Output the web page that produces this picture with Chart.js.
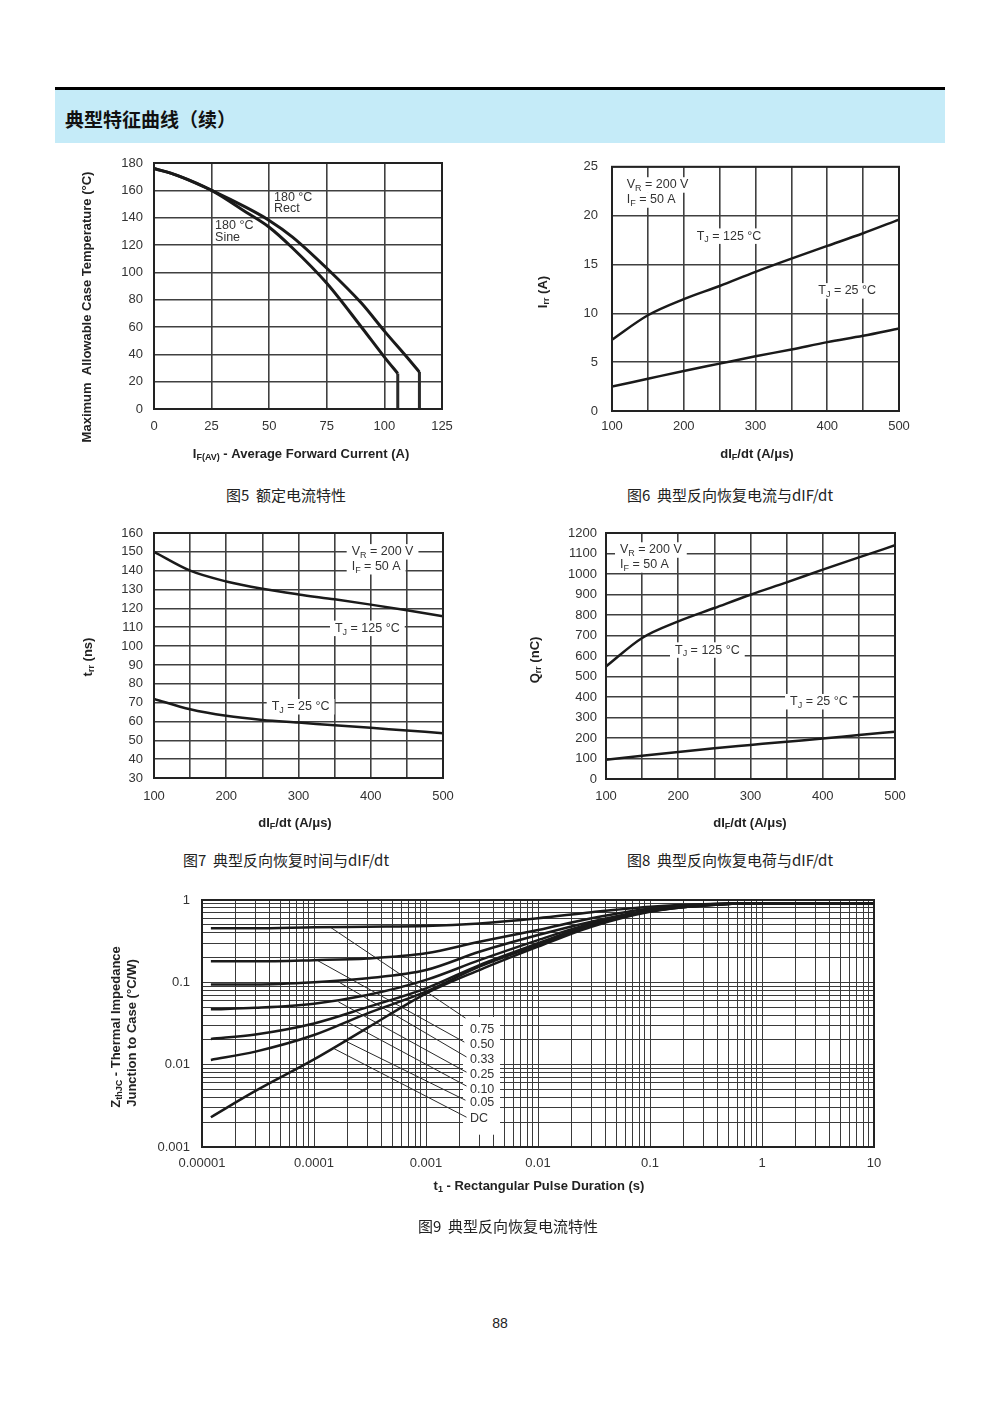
<!DOCTYPE html>
<html>
<head>
<meta charset="utf-8">
<script src="https://cdn.jsdelivr.net/npm/chart.js@4.4.1/dist/chart.umd.min.js"></script>
<style>
  body { margin: 0; background: #fff; width: 1000px; height: 1414px; position: relative; font-family: "Noto Sans CJK SC", sans-serif; }
  .bar { position: absolute; left: 55px; top: 87px; width: 890px; height: 3px; background: #000; }
  .band { position: absolute; left: 55px; top: 90px; width: 890px; height: 53px; background: #c5ebf8; }
  .band span { position: absolute; left: 10px; top: 0; line-height: 58px; font-size: 19px; font-weight: 700; color: #111; }
  canvas { position: absolute; }
  .cap { position: absolute; width: 400px; text-align: center; font-size: 15px; line-height: 20px; color: #222; white-space: pre; }
  .pg { position: absolute; left: 450px; top: 1313px; width: 100px; text-align: center; font-size: 14px; line-height: 20px; color: #222; font-family: "Liberation Sans", Arial, sans-serif; }
</style>
</head>
<body>
<div class="bar"></div>
<div class="band"><span>典型特征曲线（续）</span></div>

<canvas id="fig5"></canvas>
<canvas id="fig6"></canvas>
<canvas id="fig7"></canvas>
<canvas id="fig8"></canvas>
<canvas id="fig9"></canvas>

<div class="cap" style="left:86px;top:485px">图5  额定电流特性</div>
<div class="cap" style="left:530px;top:485px">图6  典型反向恢复电流与dIF/dt</div>
<div class="cap" style="left:86px;top:850px">图7  典型反向恢复时间与dIF/dt</div>
<div class="cap" style="left:530px;top:850px">图8  典型反向恢复电荷与dIF/dt</div>
<div class="cap" style="left:308px;top:1216px">图9  典型反向恢复电流特性</div>
<div class="pg">88</div>

<script>
// ---- fig 5: case temperature vs average forward current
const f5XLabels = [0, 25, 50, 75, 100, 125];
const f5YLabels = [0, 20, 40, 60, 80, 100, 120, 140, 160, 180];
const f5RectX = [0, 10, 25, 40, 50, 60, 75, 90, 100, 110, 115.2];
const f5RectY = [176, 171, 160, 147.5, 138, 126, 103, 77.5, 57, 37.5, 27];
const f5SineX = [0, 10, 25, 40, 50, 60, 75, 90, 100, 105.8];
const f5SineY = [176, 171, 160, 144, 133, 118, 92, 60, 38, 26];

// ---- fig 6: Irr vs dIF/dt
const didtX = [100, 150, 200, 250, 300, 350, 400, 450, 500];
const didtLabels = [100, 200, 300, 400, 500];
const f6YLabels = [0, 5, 10, 15, 20, 25];
const irr125 = [7.3, 9.8, 11.45, 12.8, 14.25, 15.6, 16.9, 18.2, 19.6];
const irr25 = [2.5, 3.3, 4.1, 4.85, 5.6, 6.3, 7.05, 7.7, 8.45];

// ---- fig 7: trr vs dIF/dt
const f7YLabels = [30, 40, 50, 60, 70, 80, 90, 100, 110, 120, 130, 140, 150, 160];
const trr125 = [150, 140, 134.3, 130.4, 127.4, 124.8, 122, 119, 115.8];
const trr25 = [72, 66.5, 63, 60.8, 59.4, 58, 56.6, 55.2, 53.8];

// ---- fig 8: Qrr vs dIF/dt
const f8YLabels = [0, 100, 200, 300, 400, 500, 600, 700, 800, 900, 1000, 1100, 1200];
const qrr125 = [549, 688, 769, 834, 899, 959, 1021, 1081, 1140];
const qrr25 = [94, 113, 132, 150, 166, 182, 197, 215, 231];

// ---- fig 9: transient thermal impedance
const tDecades = [1e-5, 1e-4, 1e-3, 1e-2, 0.1, 1, 10];
const tLabels = ['0.00001', '0.0001', '0.001', '0.01', '0.1', '1', '10'];
const zDecades = [0.001, 0.01, 0.1, 1];
const zLabels = ['0.001', '0.01', '0.1', '1'];
const zthT = [1.2e-5, 3e-5, 1e-4, 3e-4, 1e-3, 3e-3, 1e-2, 3e-2, 0.1, 0.3, 1, 10];
const z075 = [0.453, 0.453, 0.467, 0.474, 0.483, 0.52, 0.60, 0.71, 0.83, 0.89, 0.91, 0.91];
const z050 = [0.18, 0.18, 0.186, 0.195, 0.225, 0.311, 0.432, 0.60, 0.79, 0.88, 0.91, 0.91];
const z033 = [0.094, 0.094, 0.10, 0.112, 0.141, 0.235, 0.375, 0.545, 0.756, 0.87, 0.91, 0.91];
const z025 = [0.047, 0.049, 0.055, 0.07, 0.107, 0.186, 0.326, 0.52, 0.74, 0.87, 0.91, 0.91];
const z010 = [0.0205, 0.0233, 0.0317, 0.05, 0.0845, 0.162, 0.298, 0.507, 0.734, 0.86, 0.91, 0.91];
const z005 = [0.0114, 0.0144, 0.0229, 0.042, 0.077, 0.155, 0.284, 0.50, 0.73, 0.86, 0.91, 0.91];
const zDC = [0.0023, 0.0048, 0.0116, 0.028, 0.073, 0.141, 0.271, 0.474, 0.72, 0.86, 0.91, 0.91];
const dutyLabels = ['0.75', '0.50', '0.33', '0.25', '0.10', '0.05', 'DC'];
const dutyLabelY = [0.0269, 0.0178, 0.0116, 0.00762, 0.00501, 0.00344, 0.00223];
const leadStartX = [1.39e-4, 1.06e-4, 1.60e-4, 1.65e-4, 1.96e-4, 1.83e-4, 1.49e-4];
const leadStartY = [0.47, 0.186, 0.104, 0.058, 0.0332, 0.0199, 0.0158];
const leadEndX = [2.25e-3, 2.2e-3, 2.3e-3, 2.3e-3, 2.3e-3, 2.25e-3, 2.3e-3];
const leadEndY = [0.0368, 0.0188, 0.0124, 0.0081, 0.0055, 0.0037, 0.0023];

const FONT = '"Liberation Sans", Arial, sans-serif';
const X_AXIS_H = 70, Y_AXIS_W = 120, PAD_TOP = 20, PAD_RIGHT = 40;
const TICK_SIZE = 13;

function xy(xs, ys) {
  return xs.map(function (x, i) { return { x: x, y: ys[i] }; });
}

function parseRich(s) {
  const out = [];
  const re = /_\{([^}]*)\}/g;
  let last = 0, m;
  while ((m = re.exec(s))) {
    if (m.index > last) out.push({ t: s.slice(last, m.index) });
    out.push({ t: m[1], sub: true });
    last = re.lastIndex;
  }
  if (last < s.length) out.push({ t: s.slice(last) });
  return out;
}

// text with subscripts, optionally rotated / on a white patch
function richText(ctx, str, x, y, o) {
  const size = o.size || 12;
  const weight = o.bold ? 'bold ' : '';
  const ps = parseRich(str);
  const fontOf = function (p) { return weight + (p.sub ? Math.round(size * 0.72) : size) + 'px ' + FONT; };
  let w = 0;
  ps.forEach(function (p) { ctx.font = fontOf(p); p.w = ctx.measureText(p.t).width; w += p.w; });
  ctx.save();
  ctx.translate(x, y);
  if (o.rot) ctx.rotate(o.rot);
  let cx = o.align === 'center' ? -w / 2 : 0;
  if (o.bg) {
    ctx.fillStyle = '#fff';
    ctx.fillRect(cx - 5, -size * 0.62, w + 10, size * 1.24);
  }
  ctx.fillStyle = o.color || '#222';
  ctx.textBaseline = 'middle';
  ps.forEach(function (p) {
    ctx.font = fontOf(p);
    ctx.fillText(p.t, cx, p.sub ? size * 0.3 : 0);
    cx += p.w;
  });
  ctx.restore();
}

function decor(off, spec) {
  return {
    id: 'decor',
    beforeDatasetsDraw(chart) {
      const ctx = chart.ctx, sx = chart.scales.x, sy = chart.scales.y;
      (spec.boxes || []).forEach(function (b) {
        const x0 = sx.getPixelForValue(b.x0), x1 = sx.getPixelForValue(b.x1);
        const y0 = sy.getPixelForValue(b.y1), y1 = sy.getPixelForValue(b.y0);
        ctx.fillStyle = '#fff';
        ctx.fillRect(x0, y0, x1 - x0, y1 - y0);
      });
    },
    afterDatasetsDraw(chart) {
      const ctx = chart.ctx, a = chart.chartArea, sx = chart.scales.x, sy = chart.scales.y;
      ctx.save();
      ctx.strokeStyle = '#222';
      ctx.lineWidth = 2;
      ctx.strokeRect(a.left, a.top, a.right - a.left, a.bottom - a.top);
      ctx.restore();
      (spec.notes || []).forEach(function (n) {
        richText(ctx, n.text, sx.getPixelForValue(n.x), sy.getPixelForValue(n.y), { size: 12.5, bg: n.bg, color: '#333' });
      });
      (spec.titles || []).forEach(function (t) {
        richText(ctx, t.text, t.x - off.left, t.y - off.top, { size: 13, bold: true, align: 'center', rot: t.rot, color: '#222' });
      });
    }
  };
}

function place(id, plot) {
  const c = document.getElementById(id);
  const left = plot.l - Y_AXIS_W, top = plot.t - PAD_TOP;
  c.width = plot.r - plot.l + Y_AXIS_W + PAD_RIGHT;
  c.height = plot.b - plot.t + PAD_TOP + X_AXIS_H;
  c.style.left = left + 'px';
  c.style.top = top + 'px';
  return { c: c, left: left, top: top };
}

function fitter(axis) {
  return function (s) { if (axis === 'x') s.height = X_AXIS_H; else s.width = Y_AXIS_W; };
}

function linAxis(axis, min, max, step, labels, pad) {
  return {
    type: 'linear', min: min, max: max,
    ticks: {
      stepSize: step, autoSkip: false, maxRotation: 0, padding: pad, color: '#333',
      font: { family: FONT, size: TICK_SIZE },
      callback: function (v) { return labels.indexOf(v) >= 0 ? String(v) : ''; }
    },
    grid: { color: '#404040', lineWidth: 1.6, drawTicks: false },
    border: { display: false },
    afterFit: fitter(axis)
  };
}

function logAxis(axis, min, max, decades, labels, pad) {
  const lines = [];
  decades.forEach(function (d) {
    for (let m = 1; m <= 9; m++) { if (m * d <= max * 1.0001) lines.push(m * d); }
  });
  return {
    type: 'logarithmic', min: min, max: max,
    afterBuildTicks: function (s) { s.ticks = lines.map(function (v) { return { value: v }; }); },
    ticks: {
      autoSkip: false, maxRotation: 0, padding: pad, color: '#333',
      font: { family: FONT, size: TICK_SIZE },
      callback: function (v) {
        const i = decades.findIndex(function (d) { return Math.abs(v / d - 1) < 1e-6; });
        return i >= 0 ? labels[i] : '';
      }
    },
    grid: { color: '#3a3a3a', lineWidth: 1, drawTicks: false },
    border: { display: false },
    afterFit: fitter(axis)
  };
}

function curve(data, width) {
  return { data: data, borderColor: '#1a1a1a', borderWidth: width, pointRadius: 0, fill: false, cubicInterpolationMode: 'monotone' };
}
function straight(data, width) {
  return { data: data, borderColor: '#2a2a2a', borderWidth: width, pointRadius: 0, fill: false, tension: 0 };
}

function options(scales) {
  return {
    responsive: false, animation: false, events: [],
    layout: { padding: { top: PAD_TOP, right: PAD_RIGHT, left: 0, bottom: 0 } },
    plugins: { legend: { display: false }, tooltip: { enabled: false } },
    scales: scales
  };
}

const UP = -Math.PI / 2;

// fig 5
const p5 = place('fig5', { l: 154, t: 163, r: 442, b: 409 });
new Chart(p5.c, {
  type: 'line',
  data: {
    datasets: [
      curve(xy(f5RectX, f5RectY), 3),
      curve(xy(f5SineX, f5SineY), 3),
      straight([{ x: f5RectX[f5RectX.length - 1], y: f5RectY[f5RectY.length - 1] }, { x: f5RectX[f5RectX.length - 1], y: 0 }], 3),
      straight([{ x: f5SineX[f5SineX.length - 1], y: f5SineY[f5SineY.length - 1] }, { x: f5SineX[f5SineX.length - 1], y: 0 }], 3)
    ]
  },
  options: options({ x: linAxis('x', 0, 125, 25, f5XLabels, 10), y: linAxis('y', 0, 180, 20, f5YLabels, 11) }),
  plugins: [decor(p5, {
    notes: [
      { text: '180 °C', x: 52.1, y: 154.6 }, { text: 'Rect', x: 52.1, y: 146.7 },
      { text: '180 °C', x: 26.5, y: 133.9 }, { text: 'Sine', x: 26.5, y: 125.5 }
    ],
    titles: [
      { text: 'Maximum  Allowable Case Temperature (°C)', x: 87, y: 307, rot: UP },
      { text: 'I_{F(AV)} - Average Forward Current (A)', x: 301, y: 454 }
    ]
  })]
});

// fig 6
const p6 = place('fig6', { l: 612, t: 165, r: 899, b: 411 });
new Chart(p6.c, {
  type: 'line',
  data: { datasets: [curve(xy(didtX, irr125), 2.5), curve(xy(didtX, irr25), 2.5)] },
  options: options({ x: linAxis('x', 100, 500, 50, didtLabels, 8), y: linAxis('y', 0, 25, 5, f6YLabels, 14) }),
  plugins: [decor(p6, {
    notes: [
      { text: 'V_{R} = 200 V', x: 120.5, y: 23.14, bg: true },
      { text: 'I_{F} = 50 A', x: 120.5, y: 21.6, bg: true },
      { text: 'T_{J} = 125 °C', x: 218, y: 17.9, bg: true },
      { text: 'T_{J} = 25 °C', x: 387.5, y: 12.3, bg: true }
    ],
    titles: [
      { text: 'I_{rr} (A)', x: 543, y: 292, rot: UP },
      { text: 'dI_{F}/dt (A/μs)', x: 757, y: 454 }
    ]
  })]
});

// fig 7
const p7 = place('fig7', { l: 154, t: 533, r: 443, b: 778 });
new Chart(p7.c, {
  type: 'line',
  data: { datasets: [curve(xy(didtX, trr125), 2.5), curve(xy(didtX, trr25), 2.5)] },
  options: options({ x: linAxis('x', 100, 500, 50, didtLabels, 10.5), y: linAxis('y', 30, 160, 10, f7YLabels, 11) }),
  plugins: [decor(p7, {
    notes: [
      { text: 'V_{R} = 200 V', x: 373.6, y: 150, bg: true },
      { text: 'I_{F} = 50 A', x: 373.6, y: 142.1, bg: true },
      { text: 'T_{J} = 125 °C', x: 350.5, y: 109.4, bg: true },
      { text: 'T_{J} = 25 °C', x: 262.9, y: 67.8, bg: true }
    ],
    titles: [
      { text: 't_{rr} (ns)', x: 88, y: 657, rot: UP },
      { text: 'dI_{F}/dt (A/μs)', x: 295, y: 823 }
    ]
  })]
});

// fig 8
const p8 = place('fig8', { l: 606, t: 533, r: 895, b: 779 });
new Chart(p8.c, {
  type: 'line',
  data: { datasets: [curve(xy(didtX, qrr125), 2.5), curve(xy(didtX, qrr25), 2.5)] },
  options: options({ x: linAxis('x', 100, 500, 50, didtLabels, 9.5), y: linAxis('y', 0, 1200, 100, f8YLabels, 9) }),
  plugins: [decor(p8, {
    notes: [
      { text: 'V_{R} = 200 V', x: 119.4, y: 1117, bg: true },
      { text: 'I_{F} = 50 A', x: 119.4, y: 1044, bg: true },
      { text: 'T_{J} = 125 °C', x: 195.5, y: 629, bg: true },
      { text: 'T_{J} = 25 °C', x: 354.7, y: 377, bg: true }
    ],
    titles: [
      { text: 'Q_{rr} (nC)', x: 535, y: 660, rot: UP },
      { text: 'dI_{F}/dt (A/μs)', x: 750, y: 823 }
    ]
  })]
});

// fig 9
const p9 = place('fig9', { l: 202, t: 900, r: 874, b: 1147 });
const zSeries = [z075, z050, z033, z025, z010, z005, zDC];
const f9Sets = zSeries.map(function (ys) { return curve(xy(zthT, ys), 2.5); });
dutyLabels.forEach(function (lab, i) {
  f9Sets.push(straight([{ x: leadStartX[i], y: leadStartY[i] }, { x: leadEndX[i], y: leadEndY[i] }], 1));
});
new Chart(p9.c, {
  type: 'line',
  data: { datasets: f9Sets },
  options: options({ x: logAxis('x', 1e-5, 10, tDecades, tLabels, 8.5), y: logAxis('y', 0.001, 1, zDecades, zLabels, 12) }),
  plugins: [decor(p9, {
    boxes: [{ x0: 2.14e-3, x1: 4.58e-3, y0: 0.00141, y1: 0.0379 }],
    notes: dutyLabels.map(function (lab, i) { return { text: lab, x: 2.47e-3, y: dutyLabelY[i] }; }),
    titles: [
      { text: 'Z_{thJC} - Thermal Impedance', x: 116, y: 1027, rot: UP },
      { text: 'Junction to Case (°C/W)', x: 132, y: 1033, rot: UP },
      { text: 't_{1} - Rectangular Pulse Duration (s)', x: 539, y: 1186 }
    ]
  })]
});
</script>
</body>
</html>
